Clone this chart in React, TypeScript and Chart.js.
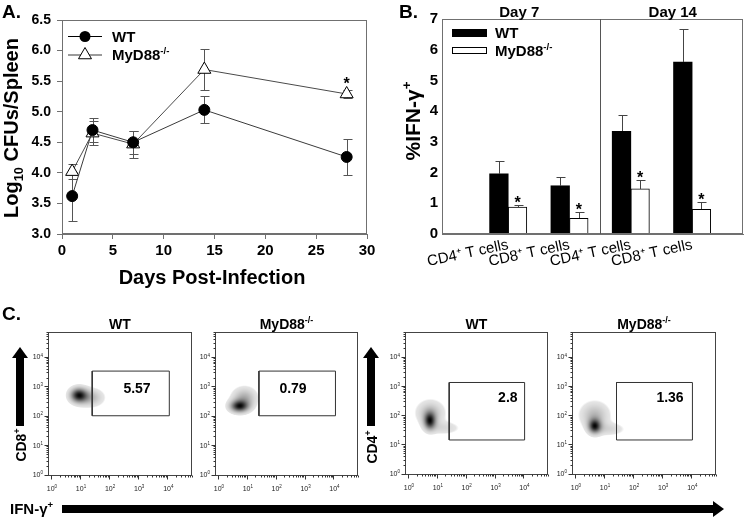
import React, { useEffect, useRef } from 'react';
import { Chart, registerables } from 'chart.js';

Chart.register(...registerables);

const FONT = "'Liberation Sans', Arial, Helvetica, sans-serif";
Chart.defaults.font.family = FONT;
Chart.defaults.color = '#000';

// ---------- Panel A data ----------
const days = [1, 3, 7, 14, 28];
const wtCfu = [3.62, 4.70, 4.50, 5.03, 4.26];
const wtCfuErr = [0.40, 0.20, 0.19, 0.22, 0.29];
const mydCfu = [4.02, 4.65, 4.47, 5.69, 5.29];
const mydCfuErr = [0.12, 0.20, 0.22, 0.34, 0.06];
const mydCfuSig = [false, false, false, false, true];

// ---------- Panel B data ----------
const cellPos = [1, 2, 3, 4];
const cellLabels = ['CD4\u207A T cells', 'CD8\u207A T cells', 'CD4\u207A T cells', 'CD8\u207A T cells'];
const dayGroups = ['Day 7', 'Day 14'];
const dayBreak = 2.5;
const wtIfn = [1.96, 1.57, 3.34, 5.60];
const wtIfnErr = [0.41, 0.28, 0.55, 1.08];
const mydIfn = [0.88, 0.51, 1.47, 0.80];
const mydIfnErr = [0.06, 0.22, 0.29, 0.23];
const mydIfnSig = [true, true, true, true];

// ---------- Panel C data (log10 fluorescence) ----------
const flowGenotype = ['WT', 'MyD88', 'WT', 'MyD88'];
const gatePct = ['5.57', '0.79', '2.8', '1.36'];
const gateX = [[1.42, 4.07], [1.42, 4.07], [1.43, 4.04], [1.43, 4.04]];
const gateY = [[2.0, 3.52], [2.0, 3.52], [1.15, 3.12], [1.15, 3.12]];
const gateLabelX = [2.96, 2.6, 3.46, 3.27];
const gateLabelY = [2.94, 2.94, 2.62, 2.62];
// density components: [x, y, sdX, sdY, weight]
const blobWtCd8 = [[0.95, 2.7, 0.2, 0.17, 1.0], [1.35, 2.62, 0.3, 0.2, 0.4]];
const blobKoCd8 = [[0.74, 2.32, 0.22, 0.14, 1.0], [0.92, 2.6, 0.28, 0.24, 0.45]];
const blobWtCd4 = [[0.76, 1.8, 0.14, 0.2, 1.0], [0.78, 2.08, 0.32, 0.28, 0.4], [1.25, 1.56, 0.38, 0.15, 0.22]];
const blobKoCd4 = [[0.68, 1.62, 0.15, 0.17, 1.0], [0.68, 2.0, 0.33, 0.3, 0.4], [1.2, 1.52, 0.36, 0.15, 0.22]];
const blobs = [blobWtCd8, blobKoCd8, blobWtCd4, blobKoCd4];
const decades = [0, 1, 2, 3, 4];

// ---------- layout ----------
const flowBoxes = [
  { l: 48, t: 332, r: 192, b: 476 },
  { l: 215, t: 332, r: 358, b: 476 },
  { l: 405, t: 332, r: 548, b: 475 },
  { l: 572, t: 332, r: 716, b: 475 },
];
const FP = { left: 26, top: 22, right: 8, bottom: 22 };

type Part = { t: string; s?: 'sup' | 'sub' };

function drawRich(
  ctx: CanvasRenderingContext2D, parts: Part[], x: number, y: number, size: number,
  weight: string, align: 'left' | 'center' | 'right', rot = 0, color = '#000'
) {
  ctx.save();
  ctx.translate(x, y);
  if (rot) ctx.rotate(rot);
  ctx.fillStyle = color;
  ctx.textAlign = 'left';
  ctx.textBaseline = 'alphabetic';
  const fontFor = (p: Part) => `${weight} ${p.s ? size * 0.64 : size}px ${FONT}`;
  let total = 0;
  for (const p of parts) { ctx.font = fontFor(p); total += ctx.measureText(p.t).width; }
  let cx = align === 'left' ? 0 : align === 'center' ? -total / 2 : -total;
  const base = size * 0.36;
  for (const p of parts) {
    ctx.font = fontFor(p);
    const dy = p.s === 'sup' ? -size * 0.4 : p.s === 'sub' ? size * 0.24 : 0;
    ctx.fillText(p.t, cx, base + dy);
    cx += ctx.measureText(p.t).width;
  }
  ctx.restore();
}

function drawStar(ctx: CanvasRenderingContext2D, x: number, cy: number, size = 16) {
  ctx.save();
  ctx.font = `bold ${size}px ${FONT}`;
  ctx.textAlign = 'center';
  ctx.textBaseline = 'alphabetic';
  ctx.fillStyle = '#000';
  ctx.fillText('*', x, cy + size * 0.58);
  ctx.restore();
}

function frame(ctx: CanvasRenderingContext2D, a: any, color: string) {
  ctx.save();
  ctx.strokeStyle = color;
  ctx.lineWidth = 1;
  const L = Math.round(a.left) + 0.5, R = Math.round(a.right) - 0.5;
  const T = Math.round(a.top) + 0.5, B = Math.round(a.bottom) - 0.5;
  ctx.strokeRect(L, T, R - L, B - T);
  ctx.restore();
}

const errorBars = {
  id: 'errorBars',
  beforeDatasetsDraw(chart: any, _a: any, opts: any) { if (opts.layer === 'before') drawErrors(chart, opts); },
  afterDatasetsDraw(chart: any, _a: any, opts: any) { if (opts.layer !== 'before') drawErrors(chart, opts); },
};

function drawErrors(chart: any, opts: any) {
  const { ctx } = chart;
  const ys = chart.scales.y;
  chart.data.datasets.forEach((ds: any, di: number) => {
    if (!ds.errors) return;
    const meta = chart.getDatasetMeta(di);
    ctx.save();
    ctx.strokeStyle = opts.color || '#444';
    ctx.lineWidth = 1;
    meta.data.forEach((el: any, i: number) => {
      const v = ds.data[i].y;
      const e = ds.errors[i];
      const px = Math.round(el.x) + 0.5;
      const top = Math.round(ys.getPixelForValue(v + e)) + 0.5;
      const bot = ds.errorUp ? Math.round(ys.getPixelForValue(v)) : Math.round(ys.getPixelForValue(v - e)) + 0.5;
      const cap = opts.cap || 4;
      ctx.beginPath();
      ctx.moveTo(px, bot); ctx.lineTo(px, top);
      ctx.moveTo(px - cap, top); ctx.lineTo(px + cap + 1, top);
      if (!ds.errorUp) { ctx.moveTo(px - cap, bot); ctx.lineTo(px + cap + 1, bot); }
      ctx.stroke();
      if (ds.sig && ds.sig[i]) drawStar(ctx, el.x, top - (opts.starGap || 8));
    });
    ctx.restore();
  });
}

function makeA(canvas: HTMLCanvasElement) {
  const decor = {
    id: 'decorA',
    afterDraw(chart: any) {
      const { ctx, chartArea: a } = chart;
      frame(ctx, a, '#707070');
      drawRich(ctx, [{ t: 'Days Post-Infection' }], 212, 277, 20, 'bold', 'center');
      drawRich(ctx, [{ t: 'Log' }, { t: '10', s: 'sub' }, { t: ' CFUs/Spleen' }], 11, 128, 20, 'bold', 'center', -Math.PI / 2);
      // legend
      const lx = a.left, ty = a.top;
      ctx.save();
      ctx.strokeStyle = '#000'; ctx.lineWidth = 1;
      ctx.beginPath(); ctx.moveTo(lx + 6, ty + 16.5); ctx.lineTo(lx + 40, ty + 16.5); ctx.stroke();
      ctx.fillStyle = '#000';
      ctx.beginPath(); ctx.arc(lx + 23, ty + 16.5, 5.5, 0, Math.PI * 2); ctx.fill();
      ctx.strokeStyle = '#9a9a9a'; ctx.lineWidth = 2;
      ctx.beginPath(); ctx.moveTo(lx + 6, ty + 35); ctx.lineTo(lx + 40, ty + 35); ctx.stroke();
      const r = 7.5, cx = lx + 23, cy = ty + 35;
      ctx.fillStyle = '#fff'; ctx.strokeStyle = '#000'; ctx.lineWidth = 1;
      ctx.beginPath();
      ctx.moveTo(cx, cy - r);
      ctx.lineTo(cx + Math.sin(2 * Math.PI / 3) * r, cy + r / 2);
      ctx.lineTo(cx - Math.sin(2 * Math.PI / 3) * r, cy + r / 2);
      ctx.closePath(); ctx.fill(); ctx.stroke();
      ctx.restore();
      drawRich(ctx, [{ t: 'WT' }], lx + 50, ty + 16.5, 15, 'bold', 'left');
      drawRich(ctx, [{ t: 'MyD88' }, { t: '-/-', s: 'sup' }], lx + 50, ty + 35, 15, 'bold', 'left');
    },
  };
  return new Chart(canvas, {
    type: 'line',
    data: {
      datasets: [
        {
          label: 'WT', data: days.map((d, i) => ({ x: d, y: wtCfu[i] })),
          borderColor: '#3a3a3a', borderWidth: 1, tension: 0,
          pointStyle: 'circle', pointRadius: 5.5, pointBackgroundColor: '#000', pointBorderColor: '#000', pointBorderWidth: 1,
          errors: wtCfuErr,
        } as any,
        {
          label: 'MyD88-/-', data: days.map((d, i) => ({ x: d, y: mydCfu[i] })),
          borderColor: '#4a4a4a', borderWidth: 1, tension: 0,
          pointStyle: 'triangle', pointRadius: 7.5, pointBackgroundColor: '#fff', pointBorderColor: '#000', pointBorderWidth: 1,
          errors: mydCfuErr, sig: mydCfuSig,
        } as any,
      ],
    },
    options: {
      animation: false, responsive: false, devicePixelRatio: 1,
      layout: { padding: { top: 20, right: 13, left: 0, bottom: 0 } },
      plugins: { legend: { display: false }, tooltip: { enabled: false }, errorBars: { layer: 'before', color: '#555', cap: 4, starGap: 11 } } as any,
      scales: {
        x: {
          type: 'linear', min: 0, max: 30,
          ticks: { stepSize: 5, font: { size: 15, weight: 'bold' }, padding: 3, maxRotation: 0, color: '#000' },
          grid: { drawOnChartArea: false, tickLength: 5, color: '#707070' },
          border: { color: '#707070' },
          afterFit: (s: any) => { s.height = 66; },
        },
        y: {
          type: 'linear', min: 3, max: 6.5,
          ticks: { stepSize: 0.5, font: { size: 14, weight: 'bold' }, padding: 6, color: '#000', callback: (v: any) => Number(v).toFixed(1) },
          grid: { drawOnChartArea: false, tickLength: 5, color: '#707070' },
          border: { color: '#707070' },
          afterFit: (s: any) => { s.width = 62; },
        },
      },
    } as any,
    plugins: [errorBars, decor],
  });
}

function makeB(canvas: HTMLCanvasElement) {
  const decor = {
    id: 'decorB',
    afterDraw(chart: any) {
      const { ctx, chartArea: a, scales: { x } } = chart;
      frame(ctx, a, '#707070');
      const bx = Math.round(x.getPixelForValue(dayBreak)) + 0.5;
      ctx.save();
      ctx.strokeStyle = '#555'; ctx.lineWidth = 1;
      ctx.beginPath(); ctx.moveTo(bx, a.top); ctx.lineTo(bx, a.bottom); ctx.stroke();
      ctx.restore();
      drawRich(ctx, [{ t: dayGroups[0] }], (a.left + bx) / 2 - 2, 12, 15, 'bold', 'center');
      drawRich(ctx, [{ t: dayGroups[1] }], (bx + a.right) / 2 + 1, 12, 15, 'bold', 'center');
      drawRich(ctx, [{ t: '%IFN-\u03B3' }, { t: '+', s: 'sup' }], 32, 121, 21, 'bold', 'center', -Math.PI / 2);
      // legend
      ctx.save();
      ctx.fillStyle = '#000';
      ctx.fillRect(a.left + 10, a.top + 10, 35, 8);
      ctx.fillStyle = '#fff'; ctx.strokeStyle = '#000'; ctx.lineWidth = 1;
      ctx.fillRect(a.left + 10, a.top + 28, 35, 7);
      ctx.strokeRect(a.left + 10.5, a.top + 28.5, 34, 6);
      ctx.restore();
      drawRich(ctx, [{ t: 'WT' }], a.left + 53, a.top + 14, 15, 'bold', 'left');
      drawRich(ctx, [{ t: 'MyD88' }, { t: '-/-', s: 'sup' }], a.left + 53, a.top + 32, 15, 'bold', 'left');
    },
  };
  return new Chart(canvas, {
    type: 'bar',
    data: {
      datasets: [
        {
          label: 'WT', data: cellPos.map((p, i) => ({ x: p, y: wtIfn[i] })),
          backgroundColor: '#000', borderColor: '#000', borderWidth: 0, barThickness: 18.6,
          errors: wtIfnErr, errorUp: true,
        } as any,
        {
          label: 'MyD88-/-', data: cellPos.map((p, i) => ({ x: p, y: mydIfn[i] })),
          backgroundColor: '#fff', borderColor: '#000', borderWidth: 1, barThickness: 18.6,
          errors: mydIfnErr, errorUp: true, sig: mydIfnSig,
        } as any,
      ],
    },
    options: {
      animation: false, responsive: false, devicePixelRatio: 1,
      layout: { padding: { top: 19, right: 7, left: 0, bottom: 0 } },
      plugins: { legend: { display: false }, tooltip: { enabled: false }, errorBars: { layer: 'after', color: '#444', cap: 4, starGap: 7 } } as any,
      scales: {
        x: {
          type: 'linear', offset: false, min: -0.08, max: 4.83,
          afterBuildTicks: (s: any) => { s.ticks = cellPos.map((v) => ({ value: v })); },
          ticks: { autoSkip: false, minRotation: 12, maxRotation: 12, font: { size: 15 }, padding: 2, color: '#000', callback: (_v: any, i: number) => cellLabels[i] },
          grid: { display: false, drawTicks: false },
          border: { color: '#707070' },
          afterFit: (s: any) => { s.height = 66; },
        },
        y: {
          type: 'linear', min: 0, max: 7,
          ticks: { stepSize: 1, font: { size: 15, weight: 'bold' }, padding: 4, color: '#000' },
          grid: { drawOnChartArea: false, drawTicks: false },
          border: { color: '#707070' },
          afterFit: (s: any) => { s.width = 62; },
        },
      },
    } as any,
    plugins: [errorBars, decor],
  });
}

function drawBlob(chart: any, comps: number[][]) {
  const { ctx, chartArea: a, scales: { x, y } } = chart;
  const pc = comps.map(([cx, cy, sx, sy, w]) => {
    const px = x.getPixelForValue(cx), py = y.getPixelForValue(cy);
    return { px, py, sx: Math.abs(x.getPixelForValue(cx + sx) - px), sy: Math.abs(y.getPixelForValue(cy + sy) - py), w };
  });
  let x0 = Infinity, x1 = -Infinity, y0 = Infinity, y1 = -Infinity;
  for (const c of pc) {
    x0 = Math.min(x0, c.px - 3 * c.sx); x1 = Math.max(x1, c.px + 3 * c.sx);
    y0 = Math.min(y0, c.py - 3 * c.sy); y1 = Math.max(y1, c.py + 3 * c.sy);
  }
  x0 = Math.floor(x0); y0 = Math.floor(y0);
  const W = Math.ceil(x1) - x0, H = Math.ceil(y1) - y0;
  const dens = new Float32Array(W * H);
  let max = 0;
  for (let j = 0; j < H; j++) for (let i = 0; i < W; i++) {
    const X = x0 + i + 0.5, Y = y0 + j + 0.5;
    let d = 0;
    for (const c of pc) {
      const dx = (X - c.px) / c.sx, dy = (Y - c.py) / c.sy;
      d += c.w * Math.exp(-0.5 * (dx * dx + dy * dy));
    }
    dens[j * W + i] = d;
    if (d > max) max = d;
  }
  const off = document.createElement('canvas');
  off.width = W; off.height = H;
  const octx = off.getContext('2d')!;
  const img = octx.createImageData(W, H);
  const t = 0.1, soft = 0.03;
  for (let p = 0; p < W * H; p++) {
    const r = dens[p] / max;
    if (r < t - soft) continue;
    const f = Math.max(0, (r - t) / (1 - t));
    const g = Math.round(228 - 222 * Math.pow(f, 1.2));
    const alpha = r >= t ? 255 : Math.round(255 * (r - (t - soft)) / soft);
    img.data[p * 4] = g; img.data[p * 4 + 1] = g; img.data[p * 4 + 2] = g; img.data[p * 4 + 3] = alpha;
  }
  octx.putImageData(img, 0, 0);
  ctx.save();
  ctx.beginPath(); ctx.rect(a.left, a.top, a.right - a.left, a.bottom - a.top); ctx.clip();
  ctx.drawImage(off, x0, y0);
  ctx.restore();
}

function makeFlow(canvas: HTMLCanvasElement, k: number) {
  const gx = gateX[k], gy = gateY[k];
  const decor = {
    id: 'flowDecor',
    beforeDatasetsDraw(chart: any) { drawBlob(chart, blobs[k]); },
    afterDraw(chart: any) {
      const { ctx, chartArea: a, scales: { x, y } } = chart;
      frame(ctx, a, '#444');
      const L = Math.round(a.left) + 0.5, B = Math.round(a.bottom) - 0.5;
      ctx.save();
      ctx.strokeStyle = '#333'; ctx.lineWidth = 1;
      ctx.beginPath();
      for (const n of decades) for (let m = 1; m <= 9; m++) {
        const v = n + Math.log10(m);
        const len = m === 1 ? 4 : 2;
        if (v <= x.max) {
          const px = Math.round(x.getPixelForValue(v)) + 0.5;
          ctx.moveTo(px, B); ctx.lineTo(px, B + len);
        }
        if (v <= y.max) {
          const py = Math.round(y.getPixelForValue(v)) + 0.5;
          ctx.moveTo(L, py); ctx.lineTo(L - len, py);
        }
      }
      ctx.stroke();
      ctx.restore();
      for (const n of decades) {
        drawRich(ctx, [{ t: '10' }, { t: String(n), s: 'sup' }], x.getPixelForValue(n) + 1, a.bottom + 12, 7, 'normal', 'center', 0, '#222');
        drawRich(ctx, [{ t: '10' }, { t: String(n), s: 'sup' }], a.left - 5, y.getPixelForValue(n), 7, 'normal', 'right', 0, '#222');
      }
      const title: Part[] = flowGenotype[k] === 'MyD88' ? [{ t: 'MyD88' }, { t: '-/-', s: 'sup' }] : [{ t: flowGenotype[k] }];
      drawRich(ctx, title, (a.left + a.right) / 2, a.top - 8, 14, 'bold', 'center');
      drawRich(ctx, [{ t: gatePct[k] }], x.getPixelForValue(gateLabelX[k]), y.getPixelForValue(gateLabelY[k]), 14, 'bold', 'center');
    },
  };
  return new Chart(canvas, {
    type: 'scatter',
    data: {
      datasets: [{
        data: [
          { x: gx[0], y: gy[0] }, { x: gx[1], y: gy[0] }, { x: gx[1], y: gy[1] },
          { x: gx[0], y: gy[1] }, { x: gx[0], y: gy[0] },
        ],
        showLine: true, pointRadius: 0, borderColor: '#333', borderWidth: 1, tension: 0, fill: false,
      } as any],
    },
    options: {
      animation: false, responsive: false, devicePixelRatio: 1,
      layout: { padding: FP },
      plugins: { legend: { display: false }, tooltip: { enabled: false } },
      scales: {
        x: { type: 'linear', min: -0.1, max: 4.85, display: false },
        y: { type: 'linear', min: -0.05, max: 4.85, display: false },
      },
    } as any,
    plugins: [decor],
  });
}

function drawOverlay(ctx: CanvasRenderingContext2D) {
  ctx.clearRect(0, 0, 750, 517);
  drawRich(ctx, [{ t: 'A.' }], 2, 11, 19, 'bold', 'left');
  drawRich(ctx, [{ t: 'B.' }], 399, 11, 19, 'bold', 'left');
  drawRich(ctx, [{ t: 'C.' }], 2, 313, 19, 'bold', 'left');
  ctx.fillStyle = '#000';
  for (const cx of [20, 371]) {
    ctx.fillRect(cx - 4, 357, 8, 69);
    ctx.beginPath();
    ctx.moveTo(cx - 8, 358); ctx.lineTo(cx + 8, 358); ctx.lineTo(cx, 347); ctx.closePath(); ctx.fill();
  }
  drawRich(ctx, [{ t: 'CD8' }, { t: '+', s: 'sup' }], 21, 445, 14, 'bold', 'center', -Math.PI / 2);
  drawRich(ctx, [{ t: 'CD4' }, { t: '+', s: 'sup' }], 372, 447, 14, 'bold', 'center', -Math.PI / 2);
  ctx.fillStyle = '#000';
  ctx.fillRect(62, 505, 652, 8);
  ctx.beginPath();
  ctx.moveTo(713, 501); ctx.lineTo(713, 517); ctx.lineTo(724, 509); ctx.closePath(); ctx.fill();
  drawRich(ctx, [{ t: 'IFN-\u03B3' }, { t: '+', s: 'sup' }], 10, 509, 15, 'bold', 'left');
}

export default function App() {
  const oRef = useRef<HTMLCanvasElement>(null);
  const aRef = useRef<HTMLCanvasElement>(null);
  const bRef = useRef<HTMLCanvasElement>(null);
  const f0 = useRef<HTMLCanvasElement>(null);
  const f1 = useRef<HTMLCanvasElement>(null);
  const f2 = useRef<HTMLCanvasElement>(null);
  const f3 = useRef<HTMLCanvasElement>(null);
  const fRefs = [f0, f1, f2, f3];

  useEffect(() => {
    const charts: Chart[] = [];
    charts.push(makeA(aRef.current!));
    charts.push(makeB(bRef.current!));
    fRefs.forEach((r, k) => charts.push(makeFlow(r.current!, k)));
    const octx = oRef.current!.getContext('2d')!;
    drawOverlay(octx);
    return () => charts.forEach((c) => c.destroy());
  }, []);

  return (
    <div style={{ position: 'absolute', left: 0, top: 0, width: 750, height: 517, background: '#fff', overflow: 'hidden' }}>
      <canvas ref={oRef} width={750} height={517} style={{ position: 'absolute', left: 0, top: 0 }} />
      <canvas ref={aRef} width={380} height={300} style={{ position: 'absolute', left: 0, top: 0 }} />
      <canvas ref={bRef} width={370} height={300} style={{ position: 'absolute', left: 380, top: 0 }} />
      {flowBoxes.map((b, k) => (
        <canvas
          key={k}
          ref={fRefs[k]}
          width={b.r - b.l + FP.left + FP.right}
          height={b.b - b.t + FP.top + FP.bottom}
          style={{ position: 'absolute', left: b.l - FP.left, top: b.t - FP.top }}
        />
      ))}
    </div>
  );
}
